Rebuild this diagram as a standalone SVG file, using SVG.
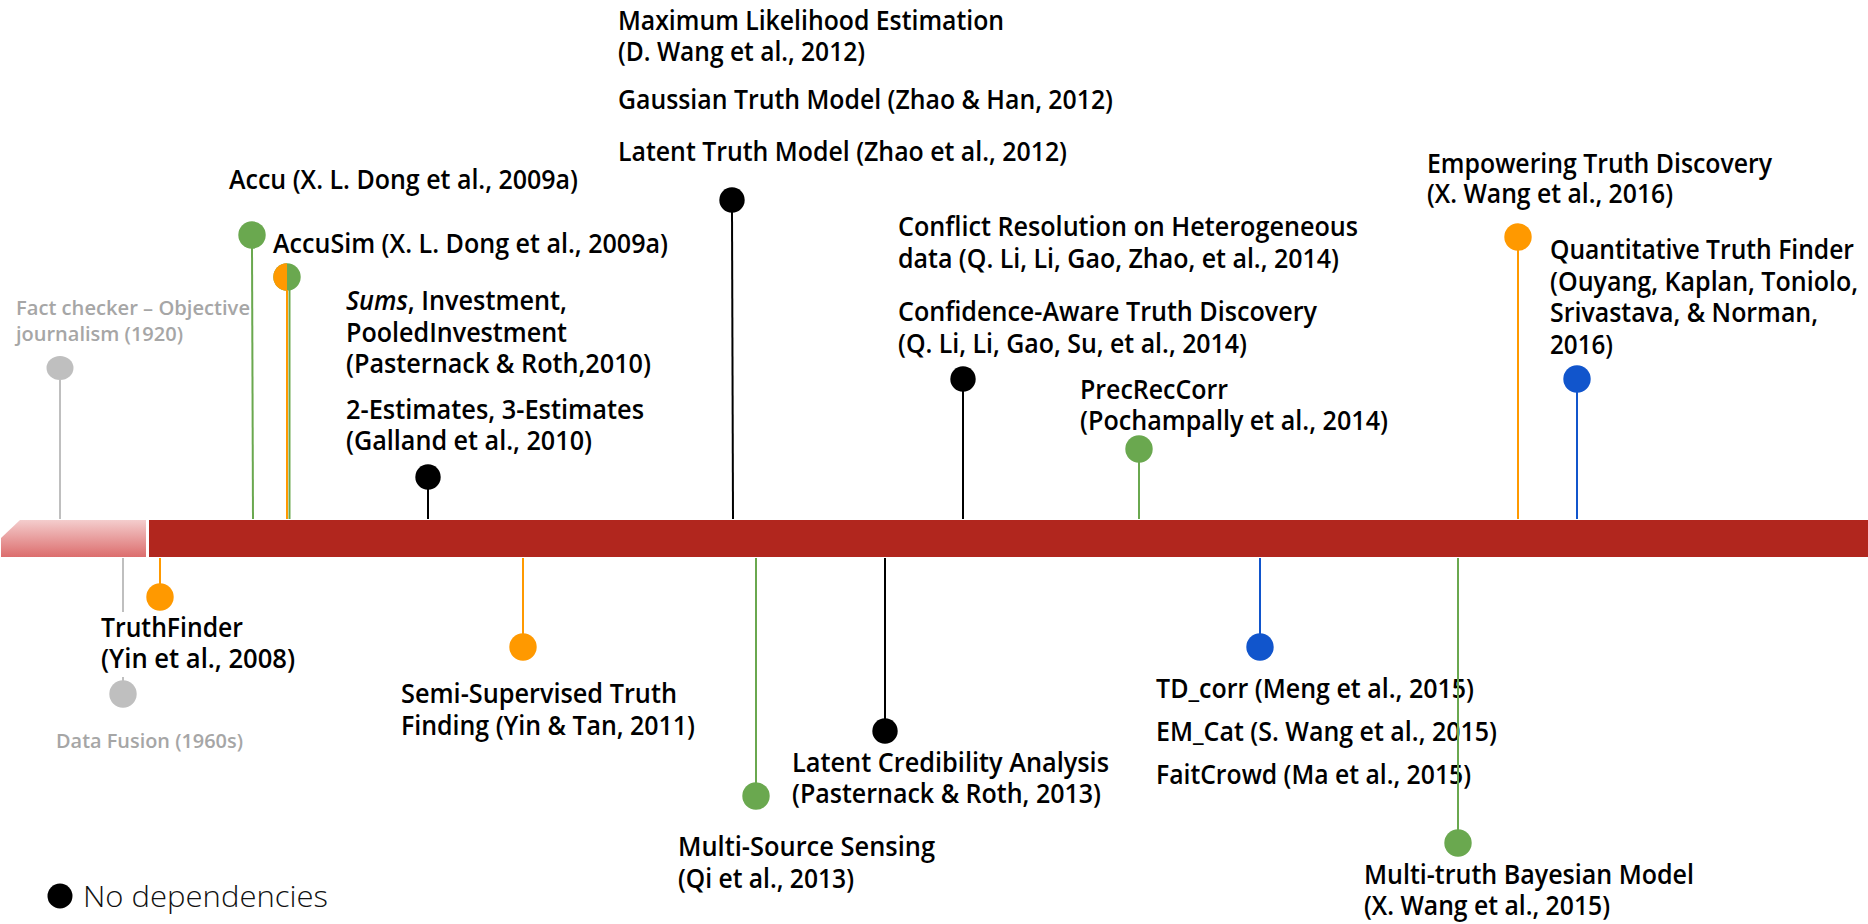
<svg xmlns="http://www.w3.org/2000/svg" width="1868" height="924" viewBox="0 0 1868 924">
  <defs>
    <linearGradient id="fade" x1="0" y1="0" x2="0" y2="1">
      <stop offset="0" stop-color="#f4cdcd"/>
      <stop offset="1" stop-color="#dc6d6d"/>
    </linearGradient>
    <clipPath id="leftHalf"><rect x="270" y="260" width="17" height="34"/></clipPath>
  </defs>
  <style>
    .t { font-family: "Open Sans", "Noto Sans", "Liberation Sans", sans-serif; font-weight: 600; font-size: 26.5px; fill: #000; }
    .g { font-family: "Open Sans", "Noto Sans", "Liberation Sans", sans-serif; font-weight: 600; font-size: 20.5px; fill: #a6a6a6; }
    .legend { font-family: "Open Sans", "Noto Sans", "Liberation Sans", sans-serif; font-weight: 300; font-size: 30px; fill: #111; }
    .stem { stroke-width: 2; fill: none; }
    .green { fill: #6aa84f; } .s-green { stroke: #6aa84f; }
    .orange { fill: #ff9900; } .s-orange { stroke: #ff9900; }
    .blue { fill: #1155cc; } .s-blue { stroke: #1155cc; }
    .black { fill: #000; } .s-black { stroke: #000; }
    .gray { fill: #bfbfbf; } .s-gray { stroke: #bfbfbf; }
  </style>
  <rect width="1868" height="924" fill="#fff"/>

  <!-- timeline bar -->
  <g id="timeline">
    <polygon points="1,538 20,520 146,520 146,557 1,557" fill="url(#fade)"/>
    <rect x="149" y="520" width="1719" height="37" fill="#b1261e"/>
  </g>

  <!-- above the bar -->
  <g id="fact-checker">
    <ellipse cx="60" cy="368" rx="13.5" ry="12" class="gray"/>
    <text class="g" x="16" y="315" textLength="234" lengthAdjust="spacingAndGlyphs">Fact checker – Objective</text>
    <text class="g" x="16" y="341" textLength="167" lengthAdjust="spacingAndGlyphs">journalism (1920)</text>
  </g>
  <g id="accu">
    <circle cx="252" cy="235" r="13.7" class="green"/>
    <text class="t" x="229" y="189" textLength="349" lengthAdjust="spacingAndGlyphs">Accu (X. L. Dong et al., 2009a)</text>
  </g>
  <g id="accusim">
    <circle cx="287" cy="277" r="13.7" class="green"/>
    <circle cx="287" cy="277" r="13.7" class="orange" clip-path="url(#leftHalf)"/>
    <text class="t" x="273" y="253" textLength="395" lengthAdjust="spacingAndGlyphs">AccuSim (X. L. Dong et al., 2009a)</text>
  </g>
  <g id="sums-estimates">
    <circle cx="428" cy="477" r="12.7" class="black"/>
    <text class="t" x="346" y="310" textLength="221" lengthAdjust="spacingAndGlyphs"><tspan font-style="italic">Sums</tspan>, Investment,</text>
    <text class="t" x="346" y="342" textLength="221" lengthAdjust="spacingAndGlyphs">PooledInvestment</text>
    <text class="t" x="346" y="373" textLength="305" lengthAdjust="spacingAndGlyphs">(Pasternack &amp; Roth,2010)</text>
    <text class="t" x="346" y="419" textLength="298" lengthAdjust="spacingAndGlyphs">2-Estimates, 3-Estimates</text>
    <text class="t" x="346" y="450" textLength="246" lengthAdjust="spacingAndGlyphs">(Galland et al., 2010)</text>
  </g>
  <g id="latent-truth">
    <circle cx="732" cy="200" r="12.7" class="black"/>
    <text class="t" x="618" y="30" textLength="386" lengthAdjust="spacingAndGlyphs">Maximum Likelihood Estimation</text>
    <text class="t" x="618" y="61" textLength="247" lengthAdjust="spacingAndGlyphs">(D. Wang et al., 2012)</text>
    <text class="t" x="618" y="109" textLength="495" lengthAdjust="spacingAndGlyphs">Gaussian Truth Model (Zhao &amp; Han, 2012)</text>
    <text class="t" x="618" y="161" textLength="449" lengthAdjust="spacingAndGlyphs">Latent Truth Model (Zhao et al., 2012)</text>
  </g>
  <g id="conflict-confidence">
    <circle cx="963" cy="379" r="12.7" class="black"/>
    <text class="t" x="898" y="236" textLength="460" lengthAdjust="spacingAndGlyphs">Conflict Resolution on Heterogeneous</text>
    <text class="t" x="898" y="268" textLength="441" lengthAdjust="spacingAndGlyphs">data (Q. Li, Li, Gao, Zhao, et al., 2014)</text>
    <text class="t" x="898" y="321" textLength="419" lengthAdjust="spacingAndGlyphs">Confidence-Aware Truth Discovery</text>
    <text class="t" x="898" y="353" textLength="349" lengthAdjust="spacingAndGlyphs">(Q. Li, Li, Gao, Su, et al., 2014)</text>
  </g>
  <g id="precreccorr">
    <circle cx="1139" cy="449" r="13.7" class="green"/>
    <text class="t" x="1080" y="399" textLength="148" lengthAdjust="spacingAndGlyphs">PrecRecCorr</text>
    <text class="t" x="1080" y="430" textLength="308" lengthAdjust="spacingAndGlyphs">(Pochampally et al., 2014)</text>
  </g>
  <g id="empowering">
    <circle cx="1518" cy="237" r="13.7" class="orange"/>
    <text class="t" x="1427" y="173" textLength="345" lengthAdjust="spacingAndGlyphs">Empowering Truth Discovery</text>
    <text class="t" x="1427" y="203" textLength="246" lengthAdjust="spacingAndGlyphs">(X. Wang et al., 2016)</text>
  </g>
  <g id="quantitative-truth-finder">
    <circle cx="1577" cy="379" r="13.7" class="blue"/>
    <text class="t" x="1550" y="259" textLength="304" lengthAdjust="spacingAndGlyphs">Quantitative Truth Finder</text>
    <text class="t" x="1550" y="291" textLength="308" lengthAdjust="spacingAndGlyphs">(Ouyang, Kaplan, Toniolo,</text>
    <text class="t" x="1550" y="322" textLength="268" lengthAdjust="spacingAndGlyphs">Srivastava, &amp; Norman,</text>
    <text class="t" x="1550" y="354" textLength="63" lengthAdjust="spacingAndGlyphs">2016)</text>
  </g>

  <!-- below the bar -->
  <g id="data-fusion">
    <circle cx="123" cy="694" r="13.7" class="gray"/>
    <text class="g" x="56" y="748" textLength="187" lengthAdjust="spacingAndGlyphs">Data Fusion (1960s)</text>
  </g>
  <g id="truthfinder">
    <circle cx="160" cy="597" r="13.7" class="orange"/>
    <text class="t" x="101" y="637" textLength="142" lengthAdjust="spacingAndGlyphs">TruthFinder</text>
    <text class="t" x="101" y="668" textLength="194" lengthAdjust="spacingAndGlyphs">(Yin et al., 2008)</text>
  </g>
  <g id="semi-supervised">
    <circle cx="523" cy="647" r="13.7" class="orange"/>
    <text class="t" x="401" y="703" textLength="276" lengthAdjust="spacingAndGlyphs">Semi-Supervised Truth</text>
    <text class="t" x="401" y="735" textLength="294" lengthAdjust="spacingAndGlyphs">Finding (Yin &amp; Tan, 2011)</text>
  </g>
  <g id="multi-source-sensing">
    <circle cx="756" cy="796" r="13.7" class="green"/>
    <text class="t" x="678" y="856" textLength="257" lengthAdjust="spacingAndGlyphs">Multi-Source Sensing</text>
    <text class="t" x="678" y="888" textLength="176" lengthAdjust="spacingAndGlyphs">(Qi et al., 2013)</text>
  </g>
  <g id="latent-credibility">
    <circle cx="885" cy="731" r="12.7" class="black"/>
    <text class="t" x="792" y="772" textLength="317" lengthAdjust="spacingAndGlyphs">Latent Credibility Analysis</text>
    <text class="t" x="792" y="803" textLength="309" lengthAdjust="spacingAndGlyphs">(Pasternack &amp; Roth, 2013)</text>
  </g>
  <g id="td-corr">
    <circle cx="1260" cy="647" r="13.7" class="blue"/>
    <text class="t" x="1156" y="698" textLength="318" lengthAdjust="spacingAndGlyphs">TD_corr (Meng et al., 2015)</text>
    <text class="t" x="1156" y="741" textLength="341" lengthAdjust="spacingAndGlyphs">EM_Cat (S. Wang et al., 2015)</text>
    <text class="t" x="1156" y="784" textLength="315" lengthAdjust="spacingAndGlyphs">FaitCrowd (Ma et al., 2015)</text>
  </g>
  <g id="multi-truth">
    <circle cx="1458" cy="843" r="13.7" class="green"/>
    <text class="t" x="1364" y="884" textLength="330" lengthAdjust="spacingAndGlyphs">Multi-truth Bayesian Model</text>
    <text class="t" x="1364" y="915" textLength="246" lengthAdjust="spacingAndGlyphs">(X. Wang et al., 2015)</text>
  </g>

  <!-- stems joining each entry to the bar -->
  <g id="connectors">
    <line class="stem s-gray" x1="60" y1="380" x2="60" y2="519"/>
    <line class="stem s-green" x1="252" y1="248" x2="253" y2="519"/>
    <line class="stem s-orange" x1="287" y1="290" x2="287" y2="519"/>
    <line class="stem s-green" x1="289.5" y1="290" x2="289.5" y2="519" stroke-width="1.2"/>
    <line class="stem s-black" x1="428" y1="489" x2="428" y2="519"/>
    <line class="stem s-black" x1="732" y1="212" x2="733" y2="519"/>
    <line class="stem s-black" x1="963" y1="391" x2="963" y2="519"/>
    <line class="stem s-green" x1="1139" y1="462" x2="1139" y2="519"/>
    <line class="stem s-orange" x1="1518" y1="250" x2="1518" y2="519"/>
    <line class="stem s-blue" x1="1577" y1="392" x2="1577" y2="519"/>
    <line class="stem s-gray" x1="123" y1="558" x2="123" y2="612"/>
    <line class="stem s-gray" x1="123" y1="677" x2="123" y2="681"/>
    <line class="stem s-orange" x1="160" y1="558" x2="160" y2="584"/>
    <line class="stem s-orange" x1="523" y1="558" x2="523" y2="634"/>
    <line class="stem s-green" x1="756" y1="558" x2="756" y2="783"/>
    <line class="stem s-black" x1="885" y1="558" x2="885" y2="719"/>
    <line class="stem s-blue" x1="1260" y1="558" x2="1260" y2="634"/>
    <line class="stem s-green" x1="1458" y1="558" x2="1458" y2="830"/>
  </g>

  <!-- key -->
  <g id="legend">
    <circle cx="60" cy="896" r="12.5" class="black"/>
    <text class="legend" x="83" y="907" textLength="245" lengthAdjust="spacingAndGlyphs">No dependencies</text>
  </g>
</svg>
